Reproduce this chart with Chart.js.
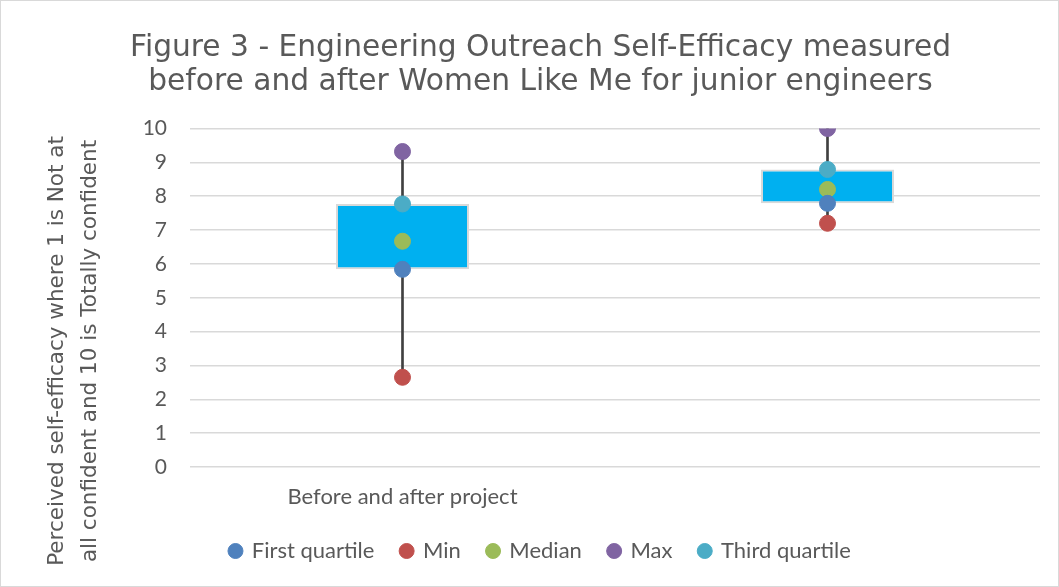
<!DOCTYPE html>
<html>
<head>
<meta charset="utf-8">
<script src="https://cdn.jsdelivr.net/npm/chart.js@4"></script>
<style>
  html, body { margin: 0; padding: 0; background: #fff; }
  #wrap { width: 1057px; height: 585px; border: 1px solid #d9d9d9; }
</style>
</head>
<body>
<div id="wrap"><canvas id="boxChart" width="1057" height="585"></canvas></div>
<script>
// categories (second one has no label in the original)
const categories = ['Before and after project', ''];

// five-number summaries
const firstQuartile = [5.84, 7.79];
const minValues = [2.65, 7.2];
const medianValues = [6.67, 8.2];
const maxValues = [9.32, 10];
const thirdQuartile = [7.77, 8.79];

const seriesNames = ['First quartile', 'Min', 'Median', 'Max', 'Third quartile'];
const seriesColors = ['#4F81BD', '#C0504D', '#9BBB59', '#8064A2', '#4BACC6'];
const seriesData = [firstQuartile, minValues, medianValues, maxValues, thirdQuartile];

const yTicks = { min: 0, max: 10, step: 1 };

const chartTitle = ['Figure 3 - Engineering Outreach Self-Efficacy measured',
                    'before and after Women Like Me for junior engineers'];
const yTitle = ['Perceived self-efficacy where 1 is Not at',
                'all confident and 10 is Totally confident'];

const textGrey = '#595959';

// y axis title sits lower than the axis centre, like the original, so draw it here
const yTitlePlugin = {
    id: 'yTitle',
    afterDraw(chart) {
        const c = chart.ctx;
        c.save();
        c.translate(56, 350);
        c.rotate(-Math.PI / 2);
        c.font = '21.5px "DejaVu Sans"';
        c.fillStyle = textGrey;
        c.textAlign = 'center';
        c.textBaseline = 'middle';
        yTitle.forEach((line, i) => c.fillText(line, 0, i * 33));
        c.restore();
    }
};

let pointSets = seriesNames.map((name, i) => ({
    type: 'line',
    label: name,
    data: seriesData[i],
    showLine: false,
    pointRadius: 8,
    pointHoverRadius: 8,
    pointBackgroundColor: seriesColors[i],
    pointBorderColor: seriesColors[i],
    backgroundColor: seriesColors[i],
    borderColor: seriesColors[i],
    order: 0
}));

let ctx = document.getElementById('boxChart').getContext('2d');
let chart = new Chart(ctx, {
    type: 'bar',
    data: {
        labels: categories,
        datasets: [
            ...pointSets,
            {
                label: 'box',
                data: firstQuartile.map((q1, i) => [q1, thirdQuartile[i]]),
                backgroundColor: '#00B0F0',
                borderColor: '#d9d9d9',
                borderWidth: 2,
                borderSkipped: false,
                grouped: false,
                barPercentage: 0.313,
                categoryPercentage: 1,
                order: 1
            },
            {
                label: 'whisker',
                data: minValues.map((mn, i) => [mn, maxValues[i]]),
                backgroundColor: '#404040',
                borderWidth: 0,
                grouped: false,
                barThickness: 2,
                order: 2
            }
        ]
    },
    plugins: [yTitlePlugin],
    options: {
        responsive: false,
        animation: false,
        layout: { padding: { left: 22, right: 0, top: 0, bottom: 14 } },
        plugins: {
            tooltip: { enabled: false },
            title: {
                display: true,
                text: chartTitle,
                color: textGrey,
                font: { family: 'DejaVu Sans', size: 29.7, weight: 'normal', lineHeight: 1.145 },
                padding: { top: 30, bottom: 29.5 }
            },
            legend: {
                position: 'bottom',
                labels: {
                    filter: item => seriesNames.includes(item.text),
                    usePointStyle: true,
                    pointStyle: 'circle',
                    boxWidth: 10.6,
                    boxHeight: 10.6,
                    padding: 27,
                    color: textGrey,
                    font: { family: 'Lato', size: 22 }
                }
            }
        },
        scales: {
            x: {
                afterFit: scale => { scale.height = 46; },
                grid: { display: false, drawTicks: false },
                border: { display: false },
                ticks: {
                    color: textGrey,
                    font: { family: 'Lato', size: 22 },
                    maxRotation: 0,
                    padding: 17
                }
            },
            y: {
                min: yTicks.min,
                max: yTicks.max,
                afterFit: scale => { scale.width = 167; },
                ticks: {
                    stepSize: yTicks.step,
                    color: textGrey,
                    font: { family: 'Lato', size: 21 },
                    padding: 23
                },
                grid: { color: '#d9d9d9', lineWidth: 1.5, drawTicks: false },
                border: { display: false }
            },
            yRight: {
                position: 'right',
                display: true,
                afterFit: scale => { scale.width = 18; },
                ticks: { display: false },
                grid: { display: false },
                border: { display: false }
            }
        }
    }
});
</script>
</body>
</html>
